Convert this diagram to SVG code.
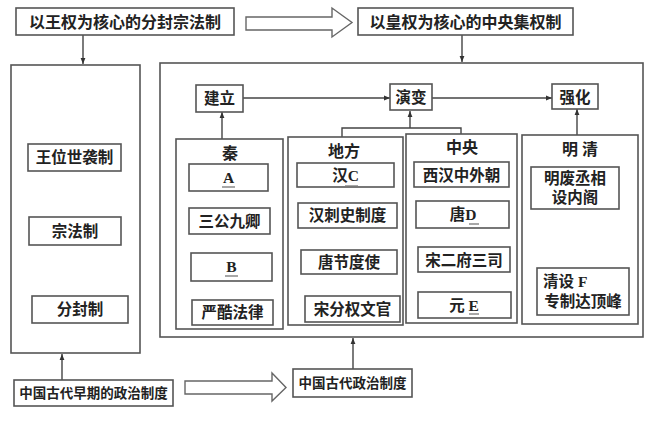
<svg xmlns="http://www.w3.org/2000/svg" width="650" height="435" viewBox="0 0 650 435">
<defs>
<marker id="ah" viewBox="0 0 10 10" refX="10" refY="5" markerWidth="6" markerHeight="6" markerUnits="userSpaceOnUse" orient="auto"><path d="M0,1 L10,5 L0,9 Z" fill="#333"/></marker>
<style>
.b{fill:#fff;stroke:#555;stroke-width:1.6}
.t{font-family:"Liberation Serif","Noto Sans CJK SC",serif;font-weight:bold;font-size:15.5px;fill:#222;text-anchor:middle}
.h{font-family:"Liberation Serif","Noto Sans CJK SC",serif;font-weight:bold;font-size:16px;fill:#222;text-anchor:middle}
.s{font-size:13.5px}
.c{fill:none;stroke:#444;stroke-width:1.4}
.u{stroke:#777;stroke-width:1.3}
.ha{fill:#fff;stroke:#666;stroke-width:1.4}
</style>
</defs>
<rect width="650" height="435" fill="#fff"/>
<g id="n-left-frame"><rect class="b" x="11" y="65" width="129" height="288"/></g>
<g id="n-right"><rect class="b" x="160" y="63" width="483" height="274"/></g>
<g id="connectors">
<line class="c" x1="83" y1="35" x2="83" y2="64" marker-end="url(#ah)"/>
<line class="c" x1="462" y1="35" x2="462" y2="62" marker-end="url(#ah)"/>
<line class="c" x1="62" y1="380" x2="62" y2="354" marker-end="url(#ah)"/>
<line class="c" x1="353" y1="369" x2="353" y2="338" marker-end="url(#ah)"/>
<line class="c" x1="243" y1="98" x2="390" y2="98" marker-end="url(#ah)"/>
<line class="c" x1="432" y1="98" x2="552" y2="98" marker-end="url(#ah)"/>
<line class="c" x1="222" y1="139" x2="222" y2="112" marker-end="url(#ah)"/>
<line class="c" x1="577" y1="135" x2="577" y2="109" marker-end="url(#ah)"/>
<polyline class="c" points="342,137 342,128 461,128 461,134"/>
<line class="c" x1="410" y1="128" x2="410" y2="111" marker-end="url(#ah)"/>
<polygon class="ha" points="246,17 332,17 332,8 352,22.5 332,37 332,30 246,30"/>
<polygon class="ha" points="185,381 272,381 272,373 286,387.5 272,401 272,394 185,394"/>
</g>
<g id="n-top-left"><rect class="b" x="16" y="8" width="218" height="27"/><text class="h" x="125" y="27.5">以王权为核心的分封宗法制</text></g>
<g id="n-top-right"><rect class="b" x="358" y="8" width="215" height="27"/><text class="h" x="465.5" y="27.5">以皇权为核心的中央集权制</text></g>
<g id="n-wangwei"><rect class="b" x="28" y="144" width="93" height="27"/><text class="t" x="74.5" y="163">王位世袭制</text></g>
<g id="n-zongfa"><rect class="b" x="29" y="217" width="92" height="28"/><text class="t" x="75" y="236.5">宗法制</text></g>
<g id="n-fenfeng"><rect class="b" x="32" y="296" width="96" height="27"/><text class="t" x="80" y="315">分封制</text></g>
<g id="n-jianli"><rect class="b" x="196" y="85" width="47" height="27"/><text class="t" x="219.5" y="104">建立</text></g>
<g id="n-yanbian"><rect class="b" x="390" y="84" width="42" height="26"/><text class="t" x="411" y="103">演变</text></g>
<g id="n-qianghua"><rect class="b" x="552" y="84" width="46" height="25"/><text class="t" x="575" y="102.5">强化</text></g>
<g id="n-qin"><rect class="b" x="176" y="139" width="107" height="190"/><text class="h" x="230" y="159">秦</text></g>
<g id="n-A"><rect class="b" x="189" y="164" width="79" height="27"/><text class="t" x="228.5" y="183">A</text><line class="u" x1="222" y1="187" x2="235" y2="187"/></g>
<g id="n-sangong"><rect class="b" x="189" y="208" width="81" height="26"/><text class="t" x="229.5" y="226.5">三公九卿</text></g>
<g id="n-B"><rect class="b" x="191" y="253" width="81" height="28"/><text class="t" x="231.5" y="272">B</text><line class="u" x1="225" y1="276" x2="238" y2="276"/></g>
<g id="n-yanku"><rect class="b" x="192" y="300" width="81" height="25"/><text class="t" x="232.5" y="318">严酷法律</text></g>
<g id="n-difang"><rect class="b" x="288" y="137" width="115" height="188"/><text class="h" x="344" y="157">地方</text></g>
<g id="n-C"><rect class="b" x="297" y="163" width="97" height="24"/><text class="t" x="345.5" y="181">汉C</text><line class="u" x1="345" y1="186" x2="358" y2="186"/></g>
<g id="n-cishi"><rect class="b" x="298" y="203" width="99" height="25"/><text class="t" x="347.5" y="221">汉刺史制度</text></g>
<g id="n-jiedu"><rect class="b" x="301" y="250" width="96" height="24"/><text class="t" x="349" y="268">唐节度使</text></g>
<g id="n-song"><rect class="b" x="305" y="296" width="95" height="26"/><text class="t" x="352.5" y="314.5">宋分权文官</text></g>
<g id="n-zhongyang"><rect class="b" x="406" y="134" width="111" height="189"/><text class="h" x="462" y="153">中央</text></g>
<g id="n-xihan"><rect class="b" x="414" y="162" width="95" height="25"/><text class="t" x="461.5" y="180.5">西汉中外朝</text></g>
<g id="n-D"><rect class="b" x="416" y="201" width="93" height="27"/><text class="t" x="463" y="220">唐D</text><line class="u" x1="469" y1="224" x2="479" y2="224"/></g>
<g id="n-songer"><rect class="b" x="418" y="247" width="92" height="25"/><text class="t" x="464" y="265.5">宋二府三司</text></g>
<g id="n-E"><rect class="b" x="418" y="292" width="93" height="26"/><text class="t" x="464" y="310.5">元 E</text><line class="u" x1="469" y1="314" x2="479" y2="314"/></g>
<g id="n-mingqing"><rect class="b" x="522" y="135" width="116" height="189"/><text class="h" x="580" y="155">明 清</text></g>
<g id="n-ming"><rect class="b" x="531" y="167" width="88" height="42"/><text class="t" x="575" y="184">明废丞相</text><text class="t" x="575" y="203">设内阁</text></g>
<g id="n-qing"><rect class="b" x="537" y="268" width="92" height="47"/><text class="t" x="543" y="287" style="text-anchor:start">清设 F</text><text class="t" x="583" y="307">专制达顶峰</text></g>
<g id="n-early"><rect class="b" x="14" y="380" width="159" height="26"/><text class="t s" x="93.5" y="398">中国古代早期的政治制度</text></g>
<g id="n-ancient"><rect class="b" x="293" y="369" width="119" height="28"/><text class="t s" x="352.5" y="388">中国古代政治制度</text></g>
</svg>
